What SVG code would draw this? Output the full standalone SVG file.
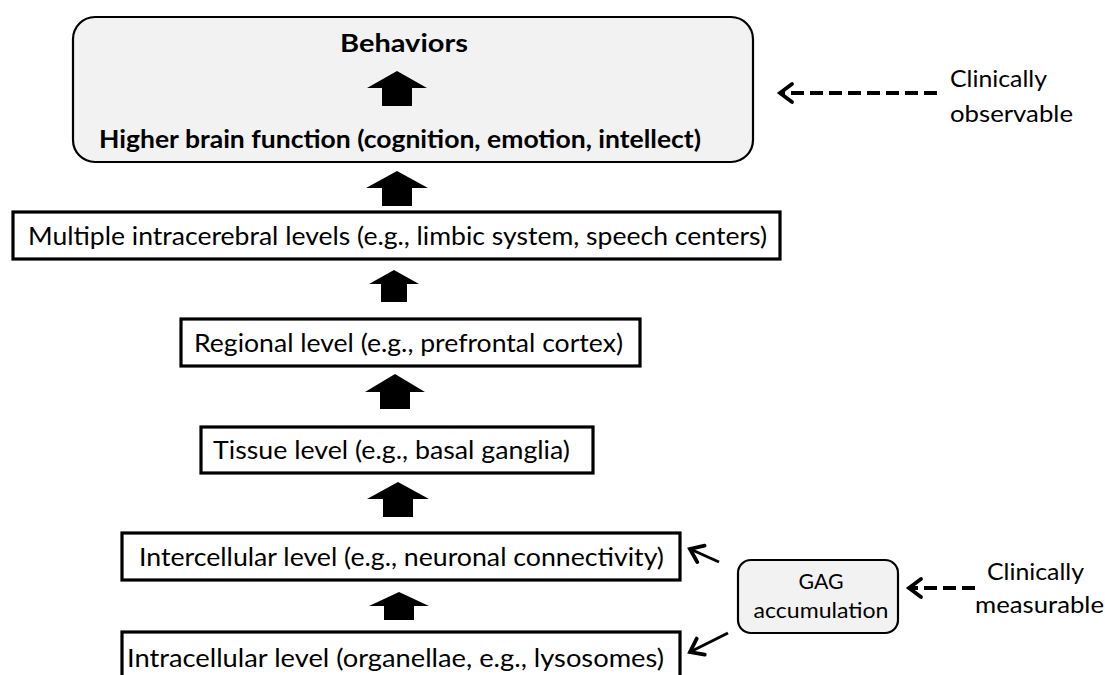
<svg xmlns="http://www.w3.org/2000/svg" width="1105" height="675" viewBox="0 0 1105 675">
<style>
text { font-family: Lato, "Liberation Sans", sans-serif; fill: #000; }
.lbl { font-size: 25.5px; }
.bold { font-size: 25px; font-weight: bold; }
.small { font-size: 22px; }
.side { font-size: 24px; }
.box { fill: #fff; stroke: #000; stroke-width: 3.2; }
.rbox { fill: #f2f2f2; stroke: #000; stroke-width: 2.2; }
.blk { fill: #000; stroke: none; }
.dash { fill: none; stroke: #000; stroke-width: 4; stroke-dasharray: 13 6; }
.thin { fill: none; stroke: #000; stroke-width: 3; }
</style>
<defs>
<marker id="chev" markerUnits="userSpaceOnUse" markerWidth="26" markerHeight="26" viewBox="-16 -13 26 26" refX="0" refY="0" orient="auto" overflow="visible">
<path d="M-12,-9 L0,0 L-12,9" fill="none" stroke="#000" stroke-width="3.8" stroke-linecap="round" stroke-linejoin="miter"/>
</marker>
</defs>
<rect width="1105" height="675" fill="#fff"/>

<g id="higher">
<rect class="rbox" x="73" y="17" width="680" height="145" rx="22" ry="22"/>
<text class="bold" x="404" y="52" text-anchor="middle" textLength="128" lengthAdjust="spacingAndGlyphs">Behaviors</text>
<text class="bold" x="99" y="148" textLength="602" lengthAdjust="spacingAndGlyphs">Higher brain function (cognition, emotion, intellect)</text>
</g>

<g id="intracerebral">
<rect class="box" x="13" y="212" width="767" height="47"/>
<text class="lbl" x="28" y="245" textLength="739" lengthAdjust="spacingAndGlyphs">Multiple intracerebral levels (e.g., limbic system, speech centers)</text>
</g>

<g id="regional">
<rect class="box" x="181" y="319" width="459" height="47"/>
<text class="lbl" x="194" y="352" textLength="429" lengthAdjust="spacingAndGlyphs">Regional level (e.g., prefrontal cortex)</text>
</g>

<g id="tissue">
<rect class="box" x="201" y="427" width="392" height="46"/>
<text class="lbl" x="213" y="459" textLength="357" lengthAdjust="spacingAndGlyphs">Tissue level (e.g., basal ganglia)</text>
</g>

<g id="intercellular">
<rect class="box" x="122" y="533" width="558" height="47"/>
<text class="lbl" x="139" y="566" textLength="525" lengthAdjust="spacingAndGlyphs">Intercellular level (e.g., neuronal connectivity)</text>
</g>

<g id="intracellular">
<rect class="box" x="122" y="632" width="558" height="60"/>
<text class="lbl" x="127" y="667" textLength="537" lengthAdjust="spacingAndGlyphs">Intracellular level (organellae, e.g., lysosomes)</text>
</g>

<g id="gag">
<rect class="rbox" x="738" y="560" width="160" height="73" rx="13" ry="13"/>
<text class="small" x="821" y="589" text-anchor="middle" textLength="45" lengthAdjust="spacingAndGlyphs">GAG</text>
<text class="small" x="821" y="618" text-anchor="middle" textLength="135" lengthAdjust="spacingAndGlyphs">accumulation</text>
</g>

<g id="observable">
<text class="side" x="950" y="87" textLength="97" lengthAdjust="spacingAndGlyphs">Clinically</text>
<text class="side" x="950" y="122" textLength="123" lengthAdjust="spacingAndGlyphs">observable</text>
</g>

<g id="measurable">
<text class="side" x="987" y="580" textLength="97" lengthAdjust="spacingAndGlyphs">Clinically</text>
<text class="side" x="975" y="613" textLength="129" lengthAdjust="spacingAndGlyphs">measurable</text>
</g>

<g id="connectors">
<polygon class="blk" points="397,71 427,88 412,88 412,106 382,106 382,88 367,88"/>
<polygon class="blk" points="397,171 428,188 412,188 412,206 382,206 382,188 366,188"/>
<polygon class="blk" points="394,270 419,284 407,284 407,302 381,302 381,284 369,284"/>
<polygon class="blk" points="395,374 425,392 410,392 410,409 380,409 380,392 365,392"/>
<polygon class="blk" points="398,482 429,499 413,499 413,517 383,517 383,499 367,499"/>
<polygon class="blk" points="399,592 429,606 414,606 414,620 384,620 384,606 369,606"/>
<line class="dash" x1="937" y1="93" x2="780" y2="93" marker-end="url(#chev)"/>
<line class="dash" x1="975" y1="588" x2="909" y2="588" marker-end="url(#chev)"/>
<line class="thin" x1="719" y1="562" x2="690" y2="549" marker-end="url(#chev)"/>
<line class="thin" x1="728" y1="633" x2="690" y2="652" marker-end="url(#chev)"/>
</g>
</svg>
